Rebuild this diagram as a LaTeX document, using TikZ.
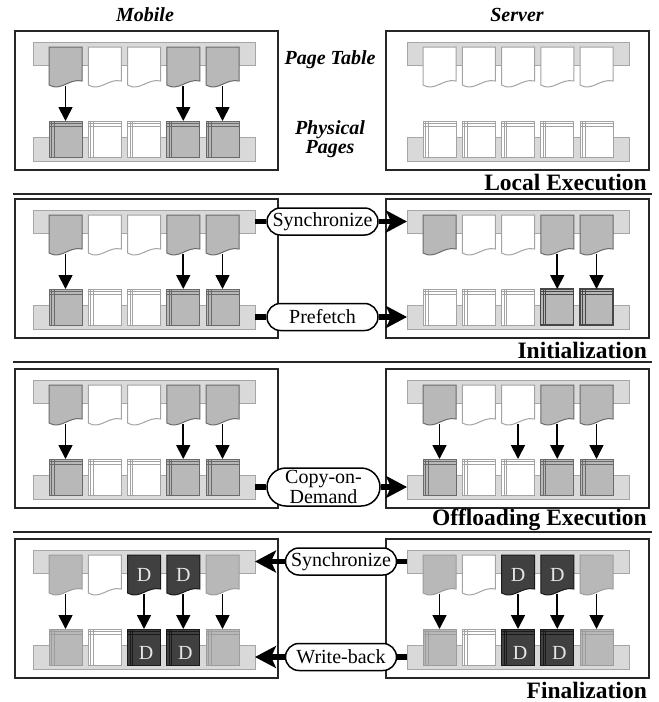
\documentclass[tikz,border=0pt]{standalone}
\usepackage{fontspec}
\setmainfont{Liberation Serif}
\usetikzlibrary{arrows.meta}
\definecolor{barfill}{HTML}{D9D9D9}
\definecolor{barline}{HTML}{A6A6A6}
\definecolor{pgfillc}{HTML}{B8B8B8}
\definecolor{pglinec}{HTML}{6A6A6A}
\definecolor{pglight}{HTML}{9C9C9C}
\definecolor{wline}{HTML}{A3A3A3}
\definecolor{dfill}{HTML}{404040}
\definecolor{dline}{HTML}{1A1A1A}
\definecolor{dtextc}{HTML}{E6E6E6}

\newcommand\mkpage[4]{%
  \draw[#4] (#2,#3) -- (#2,#3+38) .. controls (#2+12,#3+45) and (#2+20,#3+31) .. (#2+33,#3+34) -- (#2+33,#3) -- cycle;
  \coordinate (#1) at (#2+16.5,#3+39);}
\newcommand\mkphys[4]{%
  \draw[#4] (#2,#3) rectangle (#2+33,#3+36);
  \draw[#4,fill=none,line width=0.8pt] (#2+2.5,#3) -- (#2+2.5,#3+36) (#2+5,#3) -- (#2+5,#3+36)
     (#2,#3+2.5) -- (#2+33,#3+2.5) (#2,#3+5) -- (#2+33,#3+5);
  \coordinate (#1) at (#2+16.5,#3);}
\newcommand\pagerow[4]{%
  \foreach \s [count=\i] in {#4} {%
    \pgfmathsetmacro\xx{#2+39.25*(\i-1)}%
    \edef\tmp{\noexpand\mkpage{#1\i}{\xx}{#3}{\s}}\tmp}}
\newcommand\physrow[4]{%
  \foreach \s [count=\i] in {#4} {%
    \pgfmathsetmacro\xx{#2+39.25*(\i-1)}%
    \edef\tmp{\noexpand\mkphys{#1\i}{\xx}{#3}{\s}}\tmp}}
\newcommand\panel[6]{%
  \node[framebox] (#1fl) at (15,#2) {};
  \node[framebox] (#1fr) at (386,#2) {};
  \node[barbox] (#1bl) at (33,#2+11) {};
  \node[barbox] (#1br) at (407,#2+11) {};
  \node[barbox, minimum height=24pt] (#1ql) at (33,#2+106) {};
  \node[barbox, minimum height=24pt] (#1qr) at (407,#2+106) {};
  \pagerow{#1tl}{49}{#2+16}{#3}
  \physrow{#1pl}{49}{#2+90}{#4}
  \pagerow{#1tr}{423}{#2+16}{#5}
  \physrow{#1pr}{423}{#2+90}{#6}}

\begin{document}
\begin{tikzpicture}[x=1pt,y=-1pt,
  framebox/.style={draw=black!85, line width=1.1pt, inner sep=0pt, outer sep=0pt, anchor=north west, minimum width=263pt, minimum height=139pt},
  barbox/.style={draw=barline, fill=barfill, line width=1pt, inner sep=0pt, outer sep=0pt, anchor=north west, minimum width=222pt, minimum height=23pt},
  wpg/.style={fill=white, draw=wline, line width=1pt},
  gpg/.style={fill=pgfillc, draw=pglinec, line width=1pt},
  hpg/.style={fill=pgfillc, draw=pglight, line width=1pt},
  kpg/.style={fill=pgfillc, draw=black!72, line width=1.2pt},
  dpg/.style={fill=dfill, draw=dline, line width=1pt},
  pgarrow/.style={-{Triangle[length=14pt 0 0,width=14pt 0 0]}, line width=1.8pt, black},
  bigarrow/.style={-{Stealth[length=21pt 0 0,width=22pt 0 0,inset=5pt 0 0]}, line width=5.5pt, black},
  stub/.style={line width=5.5pt, black},
  pill/.style={draw=black, line width=1.5pt, fill=white, rounded corners=13.5pt, minimum width=111pt, minimum height=27pt, inner sep=0pt, font=\fontsize{20}{20}\selectfont},
  pilltwo/.style={pill, rounded corners=19pt, minimum width=113pt, minimum height=38pt, align=center, font=\fontsize{20}{17}\selectfont},
  ttl/.style={font=\fontsize{20}{19}\selectfont\bfseries\itshape, align=center, inner sep=0pt},
  seclabel/.style={font=\fontsize{23.5}{23.5}\selectfont\bfseries, anchor=east, inner sep=0pt},
  dlab/.style={text=dtextc, font=\fontsize{20}{20}\selectfont, inner sep=0pt},
  sepline/.style={line width=1.1pt, black!85}]
\useasboundingbox (0,0) rectangle (659,702);

% titles
\node[ttl] (tmob) at (145,15) {Mobile};
\node[ttl] (tsrv) at (517,15) {Server};
\node[ttl] (tpt) at (330,60) {Page Table};
\node[ttl] (tpp) at (330,139) {Physical\\Pages};

% panel a: local execution
\panel{a}{31}{gpg,wpg,wpg,gpg,gpg}{gpg,wpg,wpg,gpg,gpg}{wpg,wpg,wpg,wpg,wpg}{wpg,wpg,wpg,wpg,wpg}
\foreach \k in {1,4,5} \draw[pgarrow] (atl\k) -- (apl\k);
\node[seclabel] (la) at (647,182) {Local Execution};
\draw[sepline] (13,194) -- (652,194);

% panel b: initialization
\panel{b}{199}{gpg,wpg,wpg,gpg,gpg}{gpg,wpg,wpg,gpg,gpg}{gpg,wpg,wpg,gpg,gpg}{wpg,wpg,wpg,kpg,kpg}
\foreach \k in {1,4,5} \draw[pgarrow] (btl\k) -- (bpl\k);
\foreach \k in {4,5} \draw[pgarrow] (btr\k) -- (bpr\k);
\node[pill] (sync1) at (322.5,221.5) {Synchronize};
\node[pill] (pref) at (322.5,317) {Prefetch};
\draw[stub] (bbl.east) -- (sync1.west);
\draw[bigarrow] (sync1.east) -- (bbr.west);
\draw[stub] (bql.east) -- (pref.west);
\draw[bigarrow] (pref.east) -- (bqr.west);
\node[seclabel] (lb) at (647,350) {Initialization};
\draw[sepline] (13,362) -- (652,362);

% panel c: offloading execution
\panel{c}{369}{gpg,wpg,wpg,gpg,gpg}{gpg,wpg,wpg,gpg,gpg}{gpg,wpg,wpg,gpg,gpg}{gpg,wpg,wpg,gpg,gpg}
\foreach \k in {1,4,5} \draw[pgarrow] (ctl\k) -- (cpl\k);
\foreach \k in {1,3,4,5} \draw[pgarrow] (ctr\k) -- (cpr\k);
\node[pilltwo] (cod) at (323.5,487) {Copy-on-\\Demand};
\draw[stub] (cql.east) -- (cod.west);
\draw[bigarrow] (cod.east) -- (cqr.west);
\node[seclabel] (lc) at (647,520) {Offloading Execution};
\draw[sepline] (13,532) -- (652,532);

% panel d: finalization
\panel{d}{539}{hpg,wpg,dpg,dpg,hpg}{hpg,wpg,dpg,dpg,hpg}{hpg,wpg,dpg,dpg,hpg}{hpg,wpg,dpg,dpg,hpg}
\foreach \k in {1,3,4,5} \draw[pgarrow] (dtl\k) -- (dpl\k);
\foreach \k in {1,3,4,5} \draw[pgarrow] (dtr\k) -- (dpr\k);
\node[dlab] (dd1) at (144,575) {D};
\node[dlab] (dd2) at (183.25,575) {D};
\node[dlab] (dd3) at (518,575) {D};
\node[dlab] (dd4) at (557.25,575) {D};
\node[dlab] (dd5) at (146,653) {D};
\node[dlab] (dd6) at (185.25,653) {D};
\node[dlab] (dd7) at (520,653) {D};
\node[dlab] (dd8) at (559.25,653) {D};
\node[pill] (sync2) at (341,561.5) {Synchronize};
\node[pill] (wb) at (341,657) {Write-back};
\draw[stub] (dbr.west) -- (sync2.east);
\draw[bigarrow] (sync2.west) -- (dbl.east);
\draw[stub] (dqr.west) -- (wb.east);
\draw[bigarrow] (wb.west) -- (dql.east);
\node[seclabel] (ld) at (647,690) {Finalization};
\end{tikzpicture}
\end{document}
